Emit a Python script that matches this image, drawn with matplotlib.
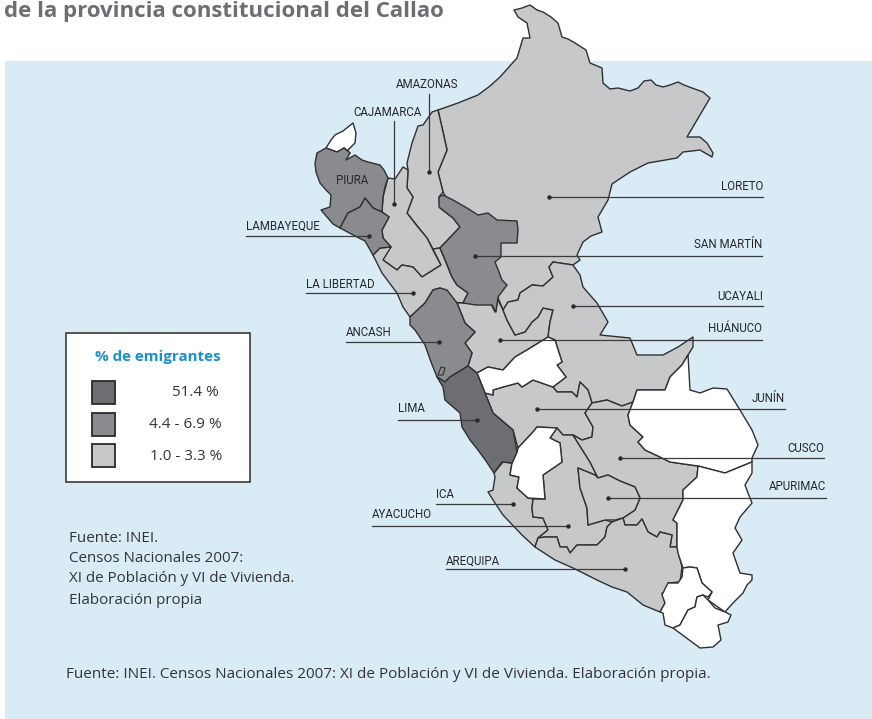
import matplotlib
matplotlib.use('Agg')
import matplotlib.pyplot as plt
from matplotlib.patches import Polygon, Rectangle

# outlines of the departments
tumbes = [(326,148),(331,140),(335,135),(343,131),(348,127),(353,123),(356,133),(355,143),(348,150),(345,156),(350,153),(344,148),(337,152)]
piura = [(317,153),(326,148),(337,152),(344,148),(350,153),(346,160),(355,155),(362,160),(368,162),(380,165),(384,170),(388,178),
         (385,187),(383,197),(382,212),(373,208),(365,198),(360,207),(348,213),(340,228),(333,224),(327,217),(321,210),(330,207),
         (331,195),(326,190),(320,183),(316,172),(315,163)]
lambayeque = [(340,228),(348,213),(360,207),(365,198),(373,208),(382,212),(389,217),(382,230),(383,238),(391,247),
              (380,248),(373,255),(365,241),(357,237)]
cajamarca = [(388,178),(395,179),(403,167),(408,170),(407,188),(413,197),(407,213),(417,226),(427,238),(434,252),(441,265),
             (430,272),(422,277),(413,267),(402,265),(397,270),(383,260),(382,250),(391,247),(383,238),(382,230),(389,217),
             (382,212),(383,197)]
amazonas = [(438,110),(432,112),(428,118),(423,125),(418,126),(412,143),(407,163),(408,170),(407,188),(413,197),(407,213),(427,238),
            (433,249),(440,248),(460,227),(453,218),(440,208),(439,197),(443,192),(438,172),(447,150),(443,132)]
loreto = [(438,110),(458,103),(478,95),(490,86),(500,77),(517,58),(523,38),(530,38),(527,23),(518,17),(514,10),(522,8),(530,5),(537,10),
          (543,12),(551,17),(558,23),(562,37),(568,39),(575,43),(586,50),(590,63),(602,68),(603,83),(610,89),(618,88),(630,91),(638,88),
          (644,81),(651,80),(656,85),(663,87),(670,85),(678,82),(684,85),(692,88),(703,92),(710,98),
          (687,137),(700,137),(707,143),(713,153),(712,157),(700,150),(692,151),(683,152),(677,158),(648,163),(630,172),(612,184),(608,200),
          (598,217),(602,232),(591,236),(583,242),(577,255),(580,260),(573,265),(553,262),(549,267),(553,277),(543,286),(532,285),
          (520,293),(518,300),(508,302),(503,310),(495,290),(470,240),(443,192),(438,172),(447,150),(443,132)]
san_martin = [(443,195),(453,200),(467,208),(478,215),(488,213),(497,220),(517,221),(518,230),(517,243),(501,243),
              (501,257),(495,262),(499,272),(502,280),(507,285),(498,297),(496,312),(492,305),(476,305),(463,303),(468,293),(457,285),
              (452,277),(446,262),(440,248),(460,227),(453,218),(439,207),(439,197)]
la_libertad = [(373,255),(380,248),(391,247),(383,260),(397,270),(402,265),(413,267),(422,277),(430,272),(441,265),
               (433,249),(440,248),(452,277),(457,285),(468,293),(463,303),(453,302),(440,288),(433,290),(425,303),
               (410,317),(403,307),(397,293),(382,273)]
ancash = [(410,317),(425,303),(433,290),(440,288),(447,290),(457,303),(461,313),(465,323),(475,332),(465,343),(472,353),(468,366),
          (450,377),(445,382),(437,377),(431,362),(425,345),(415,330),(410,325)]
callao = [(438,375),(441,367),(445,368),(443,375)]
lima = [(468,366),(477,373),(485,393),(493,413),(513,430),(517,452),(512,463),(502,462),(494,473),(486,461),(478,450),(470,440),(462,427),
        (460,413),(445,400),(443,387),(437,377),(445,382),(450,377)]
huanuco = [(457,303),(465,303),(490,302),(495,312),(498,300),(503,310),(507,320),(515,335),(525,332),(532,322),(538,317),
           (543,308),(553,310),(550,322),(548,337),(527,350),(515,357),(503,370),(488,367),(477,373),(468,366),(472,353),
           (465,343),(475,332),(465,323)]
pasco = [(548,337),(555,340),(562,362),(557,365),(566,377),(553,387),(533,380),(522,387),(518,383),(503,387),(493,390),
         (493,395),(485,393),(477,373),(488,367),(503,370),(515,357),(527,350)]
ucayali = [(503,310),(507,320),(515,335),(525,332),(532,322),(538,317),(543,308),(553,310),(550,322),(548,337),(555,340),
           (562,362),(557,365),(566,377),(553,387),(557,392),(572,392),(577,397),(580,382),(588,390),(592,403),(607,400),
           (622,406),(633,402),(637,390),(665,390),(670,377),(682,365),(688,355),(693,347),(693,337),(678,347),(663,355),(637,355),
           (630,338),(600,335),(608,322),(597,303),(583,287),(580,275),(573,265),(553,262),(549,267),(553,277),(543,286),
           (532,285),(520,293),(518,300),(508,302)]
junin = [(485,393),(493,395),(493,390),(503,387),(518,383),(522,387),(533,380),(553,387),(557,392),(572,392),(577,397),
         (580,382),(588,390),(592,403),(585,413),(593,427),(592,437),(582,440),(573,435),(563,435),(557,428),(537,427),
         (533,432),(518,448),(513,430),(493,413)]
huancavelica = [(537,427),(557,428),(550,438),(560,443),(562,462),(543,475),(545,499),(528,498),(517,488),(519,477),
                (510,475),(512,463),(517,452),(518,448),(533,432)]
ica = [(494,473),(503,462),(512,463),(510,475),(519,477),(517,488),(528,498),(533,499),(532,508),(533,517),(543,518),
       (548,530),(538,538),(535,547),(522,535),(503,515),(495,503),(488,492),(493,490),(495,477)]
ayacucho = [(550,438),(557,428),(563,435),(573,435),(590,462),(598,478),(595,475),(578,468),(580,488),(587,508),(588,525),
            (605,520),(612,522),(607,527),(605,537),(597,545),(577,545),(570,553),(567,547),(560,547),(557,537),(545,537),
            (538,538),(548,530),(543,518),(533,517),(532,508),(533,499),(545,499),(543,475),(562,462),(560,443)]
apurimac = [(578,468),(595,475),(598,478),(608,475),(620,481),(635,487),(640,498),(635,510),(623,518),(615,520),(605,520),
            (588,525),(587,508),(580,488)]
cusco = [(573,435),(582,440),(592,437),(593,427),(585,413),(592,403),(607,400),(622,406),(633,402),(628,415),(630,425),
         (643,437),(638,442),(645,450),(658,456),(670,462),(698,466),(697,477),(683,490),(683,500),(673,520),(677,523),(677,547),
         (670,547),(672,535),(660,532),(657,537),(648,532),(642,519),(637,525),(625,525),(623,518),(635,510),(640,498),
         (635,487),(620,481),(608,475),(598,478),(590,462)]
arequipa = [(535,547),(538,538),(545,537),(557,537),(560,547),(567,547),(570,553),(577,545),(597,545),(605,537),(607,527),
            (612,522),(623,518),(625,525),(637,525),(642,519),(648,532),(657,537),(660,532),(672,535),(670,547),(677,547),
            (682,567),(680,582),(668,583),(667,592),(662,593),(665,603),(660,612),(643,605),(627,592),(612,587),(597,580),(573,568),
            (555,560)]
madre_de_dios = [(637,390),(665,390),(670,377),(682,365),(688,355),(690,390),(700,393),(713,388),(727,389),(740,410),
                 (752,430),(758,445),(752,458),(752,462),(725,473),(698,466),(670,462),(658,456),(645,450),(638,442),
                 (643,437),(630,425),(628,415),(633,402)]
puno = [(698,466),(725,473),(752,462),(752,473),(745,485),(748,493),(752,503),(740,517),(735,528),(742,540),(733,553),
        (740,573),(752,575),(752,580),(747,585),(743,593),(733,603),(725,612),(708,600),(712,592),(702,583),(697,568),
        (690,567),(683,568),(678,553),(677,547),(677,523),(673,520),(683,500),(683,490),(697,477)]
moquegua = [(683,568),(690,567),(697,568),(702,583),(712,592),(708,597),(703,595),(697,597),(695,607),(688,610),(680,625),
            (673,628),(665,625),(663,613),(660,612),(665,603),(662,595),(668,583),(678,583),(682,577)]
tacna = [(673,628),(680,625),(688,610),(695,607),(697,597),(703,595),(708,600),(715,608),(725,612),(731,615),(728,622),
         (718,625),(721,640),(713,647),(700,648)]

white_deps = [tumbes, pasco, huancavelica, madre_de_dios, puno, moquegua, tacna]
light_deps = [loreto, amazonas, cajamarca, la_libertad, huanuco, ucayali, junin, ica, ayacucho, cusco, apurimac, arequipa]
mid_deps = [piura, lambayeque, san_martin, ancash]
dark_deps = [lima]

# labels: text, text x, text y, line x0, line x1, line y, alignment
hlabels = [("LORETO", 763, 186, 549, 763, 197, "right"),
           ("SAN MARTÍN", 762, 245, 475, 762, 256, "right"),
           ("UCAYALI", 763, 296, 573, 763, 306, "right"),
           ("HUÁNUCO", 762, 329, 500, 762, 340, "right"),
           ("JUNÍN", 785, 398, 537, 785, 409, "right"),
           ("CUSCO", 824, 448, 620, 824, 458, "right"),
           ("APURIMAC", 826, 487, 608, 826, 498, "right"),
           ("AREQUIPA", 446, 561, 625, 446, 569, "left"),
           ("AYACUCHO", 372, 515, 568, 372, 526, "left"),
           ("ICA", 436, 494, 513, 436, 504, "left"),
           ("LIMA", 398, 409, 477, 398, 420, "left"),
           ("ANCASH", 346, 332, 439, 346, 342, "left"),
           ("LA LIBERTAD", 306, 284, 413, 306, 293, "left"),
           ("LAMBAYEQUE", 246, 226, 369, 246, 236, "left")]
vlabels = [("AMAZONAS", 427, 85, 429, 94, 172),
           ("CAJAMARCA", 387, 112, 394, 121, 204)]

legend_title = "% de emigrantes"
legend_labels = ["51.4 %", "4.4 - 6.9 %", "1.0 - 3.3 %"]
fuente_lines = ["Fuente: INEI.", "Censos Nacionales 2007:", "XI de Población y VI de Vivienda.", "Elaboración propia"]
fuente_bottom = "Fuente: INEI. Censos Nacionales 2007: XI de Población y VI de Vivienda. Elaboración propia."
title = "de la provincia constitucional del Callao"

DARK = "#6d6e71"
MID = "#8a8b8e"
LIGHT = "#c7c8ca"
EDGE = "#303033"
LABEL_FONT = "Roboto"

fig = plt.figure(figsize=(8.72, 7.19), dpi=100)
ax = fig.add_axes([0, 0, 1, 1])
ax.set_xlim(0, 872)
ax.set_ylim(719, 0)
ax.axis("off")

ax.add_patch(Rectangle((5, 61), 867, 658, fc="#d9ebf5", ec="none", zorder=0))
ax.text(4, 12, title, fontsize=16, fontweight="bold", family="Open Sans", color="#6d6e71", va="center")

for deps, col in [(light_deps, LIGHT), (white_deps, "white"), (mid_deps, MID), (dark_deps, DARK)]:
    for d in deps:
        ax.add_patch(Polygon(d, closed=True, fc=col, ec=EDGE, lw=1.0, joinstyle="round", zorder=2))
ax.add_patch(Polygon(callao, closed=True, fc=MID, ec=EDGE, lw=0.8, zorder=3))

for name, tx, ty, x0, x1, y, ha in hlabels:
    ax.plot([x0, x1], [y, y], color="#3a3a3c", lw=0.9, zorder=4)
    ax.plot([x0], [y], "o", color="#2a2a2c", ms=2.2, zorder=4)
    ax.text(tx, ty, name, ha=ha, va="center", fontsize=8.3, family=LABEL_FONT, color="#27272a", zorder=5)
for name, tx, ty, x, y0, y1 in vlabels:
    ax.plot([x, x], [y0, y1], color="#3a3a3c", lw=0.9, zorder=4)
    ax.plot([x], [y1], "o", color="#2a2a2c", ms=2.2, zorder=4)
    ax.text(tx, ty, name, ha="center", va="center", fontsize=8.3, family=LABEL_FONT, color="#27272a", zorder=5)
ax.text(352, 181, "PIURA", ha="center", va="center", fontsize=8.3, family=LABEL_FONT, color="#27272a", zorder=5)

# legend
ax.add_patch(Rectangle((66, 333), 184, 149, fc="white", ec="#2a2a2c", lw=1.1, zorder=2))
ax.text(158, 357, legend_title, ha="center", va="center", fontsize=10.9, fontweight="bold",
        family="Open Sans", color="#1b8fd0", zorder=3)
for y, col, lab, tx in zip([381, 413, 444], [DARK, MID, LIGHT], legend_labels, [219, 222, 222]):
    ax.add_patch(Rectangle((92, y), 23, 23, fc=col, ec="#2a2a2c", lw=1.3, zorder=3))
    ax.text(tx, y + 12, lab, ha="right", va="center", fontsize=11, family="Open Sans", color="#333336", zorder=3)

for y, s in zip([538, 558, 579, 600], fuente_lines):
    ax.text(69, y, s, ha="left", va="center", fontsize=10.9, family="Open Sans", color="#333336", zorder=3)
ax.text(66, 675, fuente_bottom, ha="left", va="center", fontsize=11, family="Open Sans", color="#333336", zorder=3)

fig.savefig("out.png", dpi=100)
